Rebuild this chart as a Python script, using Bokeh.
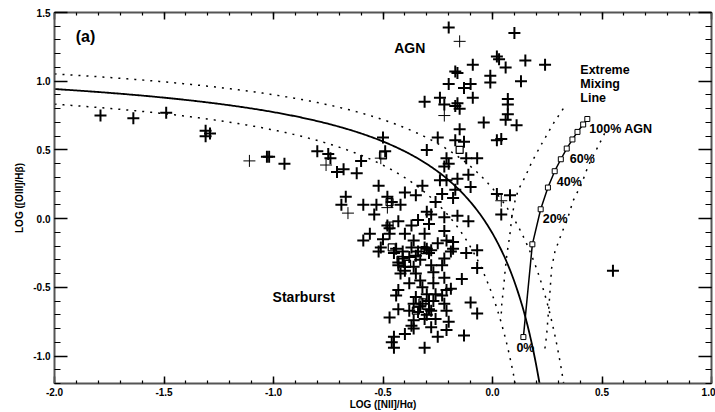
import numpy as np
from bokeh.plotting import figure
from bokeh.models import (Range1d, LinearAxis, SingleIntervalTicker, PrintfTickFormatter,
                          CustomJSTickFormatter)
from bokeh.core.properties import value
from bokeh.embed import file_html
from bokeh.resources import INLINE

# ---- galaxies: log([NII]/Halpha) vs log([OIII]/Hbeta) ----
bold_x = [
    -1.79, -1.64, -1.49, -1.31, -1.29, -1.31, -1.03, -1.02, -0.95, -0.80, -0.75, -0.74,
    -0.71, -0.68, -0.60, -0.62, -0.50, -0.49, -0.30, -0.52, -0.32, -0.35, -0.40, -0.67,
    -0.69, -0.59, -0.53, -0.54, -0.48, -0.46, -0.42, -0.43, -0.48, -0.47, -0.37, -0.34,
    -0.30, -0.28, -0.29, -0.31, -0.40, -0.36, -0.56, -0.59, -0.50, -0.51, -0.44, -0.52,
    -0.41, -0.34, -0.30,
    -0.20, 0.10, 0.02, 0.03, -0.09, 0.06, 0.15, 0.24, -0.17, -0.16, -0.01, -0.01,
    -0.20, -0.10, -0.13, 0.13, -0.31, -0.24, -0.22, -0.16, -0.17, -0.15, -0.09, 0.07,
    0.07, 0.07, 0.06, -0.04, 0.11, -0.15, 0.02, 0.04,
    -0.25, -0.17, -0.13, -0.21, -0.20, -0.22, -0.12, -0.07, -0.11, -0.10, -0.24, -0.21,
    -0.16, -0.17, -0.18, -0.23, -0.26, 0.02, 0.08, 0.04, -0.22, -0.16, -0.11, -0.22,
    -0.21, -0.18, -0.31, -0.28, -0.18, -0.07, -0.07, -0.12, -0.25,
    -0.47, -0.37, -0.22, -0.35, -0.29, -0.43, -0.36, -0.40, -0.28, -0.27, -0.22, -0.14,
    -0.19, -0.21, -0.23, -0.43, -0.44, -0.35, -0.33, -0.27, -0.22, -0.10, -0.07, -0.43,
    -0.47, -0.36, -0.30, -0.28, -0.21, -0.25, -0.37, -0.40, -0.13, -0.45, -0.46, -0.45,
    -0.31, 0.55, -0.45, -0.19, -0.43, -0.40, -0.23, -0.42, -0.35, -0.38, -0.27, -0.29,
    -0.28, -0.21, -0.38, -0.31, -0.26, -0.20, -0.36, -0.32, -0.30, -0.34, -0.29, -0.32,
    -0.26, -0.33, -0.36, -0.38, -0.33, -0.41,
]
bold_y = [
    0.75, 0.73, 0.77, 0.64, 0.62, 0.60, 0.45, 0.45, 0.40, 0.49, 0.47, 0.44,
    0.34, 0.36, 0.42, 0.33, 0.59, 0.49, 0.50, 0.24, 0.24, 0.17, 0.19, 0.16,
    0.10, 0.10, 0.10, 0.03, 0.16, 0.12, 0.10, -0.02, -0.05, -0.07, -0.05, -0.01,
    0.05, 0.03, -0.04, -0.11, -0.11, -0.16, -0.11, -0.16, -0.15, -0.21, -0.22, -0.24,
    -0.24, -0.24, -0.22,
    1.39, 1.35, 1.18, 1.16, 1.12, 1.10, 1.15, 1.12, 1.07, 1.06, 1.04, 0.99,
    0.98, 0.98, 0.95, 1.00, 0.85, 0.88, 0.83, 0.84, 0.82, 0.80, 0.88, 0.87,
    0.83, 0.76, 0.72, 0.70, 0.68, 0.65, 0.57, 0.58,
    0.59, 0.57, 0.56, 0.44, 0.40, 0.38, 0.44, 0.44, 0.32, 0.23, 0.28, 0.28,
    0.29, 0.21, 0.15, 0.18, 0.12, 0.18, 0.17, 0.03, 0.01, 0.02, -0.02, -0.09,
    -0.16, -0.17, -0.21, -0.23, -0.22, -0.23, -0.36, -0.25, -0.18,
    -0.11, -0.21, -0.29, -0.27, -0.25, -0.32, -0.35, -0.38, -0.34, -0.39, -0.43, -0.44,
    -0.51, -0.52, -0.56, -0.52, -0.56, -0.57, -0.64, -0.60, -0.62, -0.61, -0.69, -0.66,
    -0.72, -0.74, -0.70, -0.79, -0.81, -0.86, -0.78, -0.84, -0.85, -0.86, -0.90, -0.94,
    -0.94, -0.38, -0.25, -0.24, -0.34, -0.35, -0.34, -0.40, -0.40, -0.47, -0.47, -0.60,
    -0.67, -0.67, -0.67, -0.73, -0.73, -0.75, -0.80, -0.50, -0.55, -0.68, -0.66, -0.62,
    -0.55, -0.45, -0.62, -0.28, -0.30, -0.29,
]
thin_x = [-1.11, -0.76, -0.51, -0.66, -0.48, -0.15, 0.04, -0.22]
thin_y = [0.42, 0.39, 0.44, 0.04, 0.08, 1.29, 0.13, 0.75]
box_x = [-0.50, -0.15, -0.47, -0.47, -0.39, -0.31, -0.46, -0.35, -0.32, -0.42]
box_y = [0.46, 0.50, 0.12, -0.05, -0.33, -0.23, -0.21, -0.67, -0.61, -0.30]

# ---- extreme mixing line, 0% .. 100% AGN in steps of 10% ----
mix_pct = [0, 10, 20, 30, 40, 50, 60, 70, 80, 90, 100]
mix_x = [0.141, 0.182, 0.220, 0.253, 0.284, 0.312, 0.339, 0.365, 0.388, 0.414, 0.433]
mix_y = [-0.862, -0.187, 0.068, 0.226, 0.345, 0.432, 0.510, 0.576, 0.631, 0.685, 0.725]
mix_labels = {0: "0%", 20: "20%", 40: "40%", 60: "60%", 100: "100% AGN"}

# uncertainty envelope of the mixing line
env_left_x = [0.323, 0.277, 0.216, 0.179, 0.148, 0.118, 0.103, 0.088, 0.080, 0.065, 0.057, 0.050, 0.042, 0.039]
env_left_y = [0.80, 0.69, 0.52, 0.41, 0.30, 0.21, 0.13, 0.01, -0.11, -0.27, -0.39, -0.51, -0.63, -0.73]
env_right_x = [0.512, 0.474, 0.436, 0.406, 0.368, 0.345, 0.315, 0.285, 0.270, 0.259, 0.247, 0.239]
env_right_y = [0.62, 0.50, 0.38, 0.25, 0.13, 0.01, -0.11, -0.24, -0.36, -0.61, -0.85, -0.95]

# Kewley et al. (2001) maximum-starburst line y = A/(x - B) + C, with +/-0.1 dex bounds
KEW_A, KEW_B, KEW_C = 0.61, 0.47, 1.19
KEW_SHIFT = 0.1

X_MIN, X_MAX = -2.0, 1.0
Y_MIN, Y_MAX = -1.2, 1.5

FONT = "Liberation Sans"
DOTS = "2 6"


def kewley(shift):
    b = KEW_B + shift
    c = KEW_C + shift
    x_end = b + KEW_A / (Y_MIN - c)
    xs = np.linspace(X_MIN, x_end, 400)
    return xs, KEW_A / (xs - b) + c


p = figure(width=715, height=412, x_range=Range1d(X_MIN, X_MAX), y_range=Range1d(Y_MIN, Y_MAX),
           output_backend="svg", toolbar_location=None,
           min_border_left=54, min_border_right=4, min_border_top=12, min_border_bottom=26)
p.xgrid.visible = False
p.ygrid.visible = False
p.outline_line_color = None
p.background_fill_color = "white"
p.border_fill_color = "white"

# demarcation curves
kx, ky = kewley(0.0)
p.line(kx, ky, line_color="black", line_width=1.8)
for s in (KEW_SHIFT, -KEW_SHIFT):
    dx, dy = kewley(s)
    p.line(dx, dy, line_color="black", line_width=1.5, line_dash=DOTS)

p.line(env_left_x, env_left_y, line_color="black", line_width=1.5, line_dash=DOTS)
p.line(env_right_x, env_right_y, line_color="black", line_width=1.5, line_dash=DOTS)

# galaxies
p.scatter(bold_x, bold_y, marker="cross", size=12, line_color="black", line_width=2)
p.scatter(thin_x, thin_y, marker="cross", size=12, line_color="black", line_width=1)
p.scatter(box_x, box_y, marker="square", size=7, line_color="black", fill_color=None, line_width=1.2)

# mixing line
p.line(mix_x, mix_y, line_color="black", line_width=1.5)
p.scatter(mix_x, mix_y, marker="square", size=5, line_color="black", fill_color="white", line_width=1)

label_offsets = {0: (-7, 11), 20: (2, 9.5), 40: (2, 10.5), 60: (3, 10), 100: (2, 10)}
for pct, txt in mix_labels.items():
    i = mix_pct.index(pct)
    ox, oy = label_offsets[pct]
    p.text([mix_x[i]], [mix_y[i]], text=[txt], x_offset=ox, y_offset=oy,
           text_font=value(FONT), text_font_style="bold", text_font_size="12.5px",
           text_align="left", text_baseline="middle", text_color="black")


# region annotations
def note(x, y, txt, size, align="left"):
    p.text([x], [y], text=[txt], text_font=value(FONT), text_font_style="bold",
           text_font_size=size, text_align=align, text_baseline="middle", text_color="black")


note(-1.903, 1.328, "(a)", "16px")
note(-0.378, 1.240, "AGN", "14px", "center")
note(0.401, 1.080, "Extreme", "12.5px")
note(0.401, 0.978, "Mixing", "12.5px")
note(0.401, 0.880, "Line", "12.5px")
note(-0.862, -0.570, "Starburst", "14px", "center")

# axes on all four sides, ticks pointing inward
p.add_layout(LinearAxis(), "above")
p.add_layout(LinearAxis(), "right")

for ax in p.axis:
    ax.ticker = SingleIntervalTicker(interval=0.5, num_minor_ticks=5)
    ax.formatter = PrintfTickFormatter(format="%.1f")
    ax.axis_line_color = "#555555"
    ax.axis_line_width = 2
    ax.major_tick_line_color = "black"
    ax.major_tick_line_width = 1.5
    ax.minor_tick_line_color = "black"
    ax.minor_tick_line_width = 1.2
    ax.major_tick_out = 0
    ax.minor_tick_out = 0
    ax.major_label_text_font = FONT
    ax.major_label_text_font_style = "bold"
    ax.major_label_text_font_size = "10px"
    ax.major_label_text_color = "black"
    ax.axis_label_text_font = FONT
    ax.axis_label_text_font_style = "bold"
    ax.axis_label_text_font_size = "10px"
    ax.axis_label_text_color = "black"

for ax in p.xaxis:
    ax.major_tick_in = 7
    ax.minor_tick_in = 3
for ax in p.yaxis:
    ax.major_tick_in = 13
    ax.minor_tick_in = 6

p.below[0].axis_label = "LOG ([NII]/Hα)"
p.below[0].major_label_standoff = 4
p.below[0].axis_label_standoff = 0
p.left[0].axis_label = "LOG ([OIII]/Hβ)"
p.left[0].major_label_standoff = 4
p.left[0].axis_label_standoff = 5
# mirrored axes carry ticks only
for ax in (p.above[0], p.right[0]):
    ax.formatter = CustomJSTickFormatter(code="return ''")
    ax.major_label_standoff = 0

open("out.html", "w").write(file_html(p, INLINE))
